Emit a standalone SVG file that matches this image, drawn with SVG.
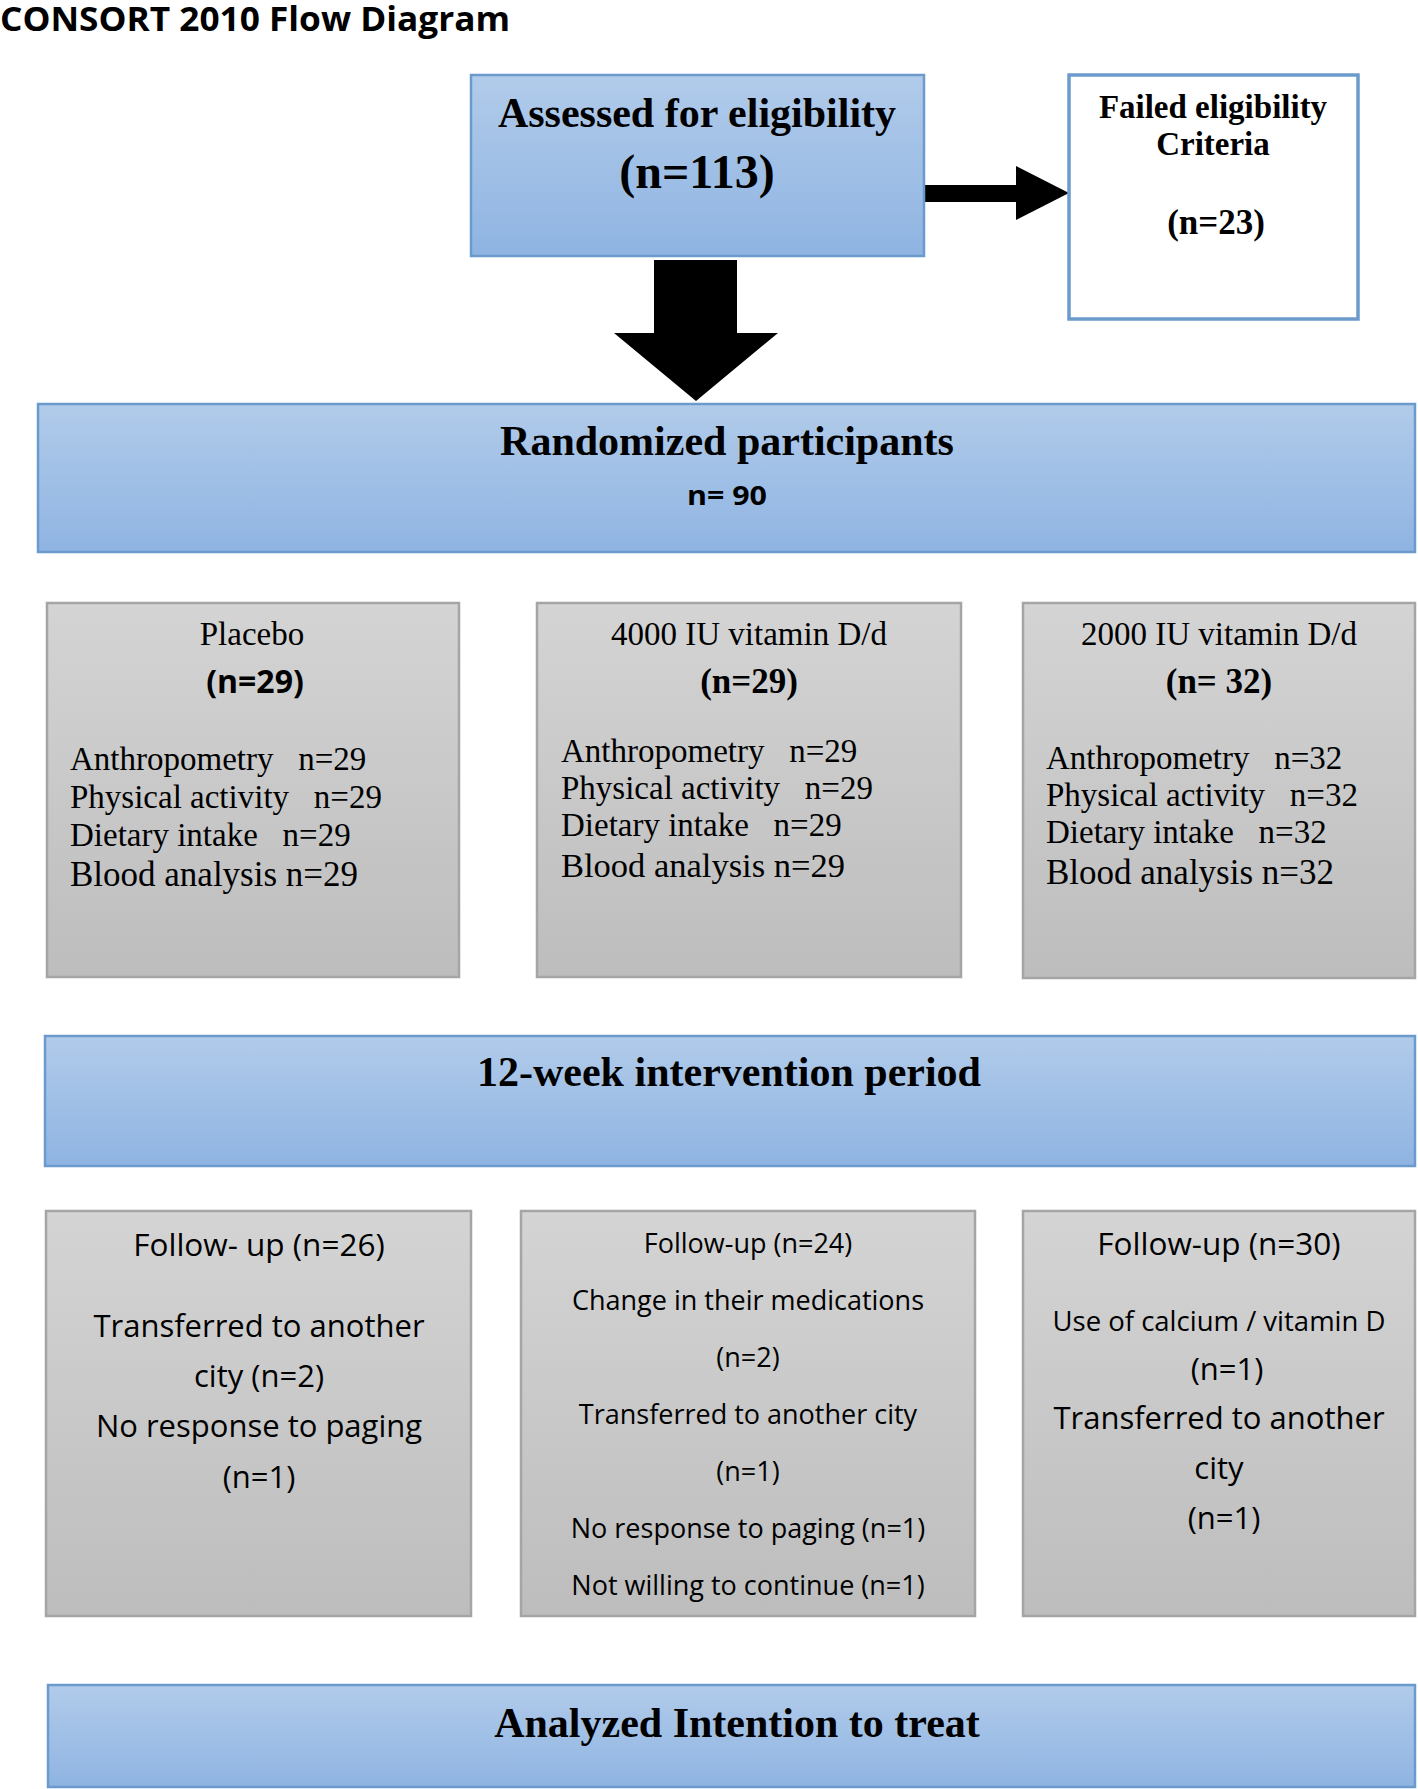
<svg xmlns="http://www.w3.org/2000/svg" width="1418" height="1789" viewBox="0 0 1418 1789">
<defs>
<linearGradient id="gBlue" x1="0" y1="0" x2="0" y2="1">
<stop offset="0" stop-color="#b1cbea"/>
<stop offset="1" stop-color="#8fb4e2"/>
</linearGradient>
<linearGradient id="gGray" x1="0" y1="0" x2="0" y2="1">
<stop offset="0" stop-color="#d4d4d4"/>
<stop offset="1" stop-color="#bdbdbd"/>
</linearGradient>
<style>
.blue{fill:url(#gBlue);stroke:#6b9acd;stroke-width:2.5}
.gray{fill:url(#gGray);stroke:#a5a5a5;stroke-width:2.5}
.white{fill:#ffffff;stroke:#6b9acd;stroke-width:3.5}
.tb{font-family:"Liberation Serif","Times New Roman",serif;font-weight:bold;fill:#000}
.tr{font-family:"Liberation Serif","Times New Roman",serif;fill:#000}
.sa{font-family:"Open Sans","Noto Sans",sans-serif;fill:#000}
.c{text-anchor:middle}
.arrow{fill:#000}
</style>
</defs>
<rect width="1418" height="1789" fill="#ffffff"/>
<text x="0" y="31" class="sa" font-weight="bold" font-size="34" textLength="510" lengthAdjust="spacingAndGlyphs">CONSORT 2010 Flow Diagram</text>

<g id="connectors">
<polygon class="arrow" points="924,185 1016,185 1016,166 1069,193 1016,220 1016,202 924,202"/>
<polygon class="arrow" points="654,260 737,260 737,333 778,333 696,401 614,333 654,333"/>
</g>

<g id="assessed">
<rect class="blue" x="471" y="75" width="453" height="181"/>
<text x="697" y="127" class="tb c" font-size="42">Assessed for eligibility</text>
<text x="697" y="188" class="tb c" font-size="48">(n=113)</text>
</g>

<g id="failed">
<rect class="white" x="1069" y="75" width="289" height="244"/>
<text x="1213" y="118" class="tb c" font-size="33">Failed eligibility</text>
<text x="1213" y="155" class="tb c" font-size="33">Criteria</text>
<text x="1216" y="234" class="tb c" font-size="35">(n=23)</text>
</g>

<g id="randomized">
<rect class="blue" x="38" y="404" width="1377" height="148"/>
<text x="727" y="455" class="tb c" font-size="42">Randomized participants</text>
<text x="727" y="505" class="sa c" font-weight="bold" font-size="27" textLength="80" lengthAdjust="spacingAndGlyphs">n= 90</text>
</g>

<g id="placebo">
<rect class="gray" x="47" y="603" width="412" height="374"/>
<text x="252" y="645" class="tr c" font-size="33">Placebo</text>
<text x="255" y="693" class="sa c" font-weight="bold" font-size="32">(n=29)</text>
<text x="70" y="770" class="tr" font-size="33" xml:space="preserve">Anthropometry   n=29</text>
<text x="70" y="808" class="tr" font-size="33" xml:space="preserve">Physical activity   n=29</text>
<text x="70" y="846" class="tr" font-size="33" xml:space="preserve">Dietary intake   n=29</text>
<text x="70" y="886" class="tr" font-size="35" xml:space="preserve">Blood analysis n=29</text>
</g>

<g id="vitd4000">
<rect class="gray" x="537" y="603" width="424" height="374"/>
<text x="749" y="645" class="tr c" font-size="33">4000 IU vitamin D/d</text>
<text x="749" y="693" class="tb c" font-size="35">(n=29)</text>
<text x="561" y="762" class="tr" font-size="33" xml:space="preserve">Anthropometry   n=29</text>
<text x="561" y="799" class="tr" font-size="33" xml:space="preserve">Physical activity   n=29</text>
<text x="561" y="836" class="tr" font-size="33" xml:space="preserve">Dietary intake   n=29</text>
<text x="561" y="877" class="tr" font-size="34.5" xml:space="preserve">Blood analysis n=29</text>
</g>

<g id="vitd2000">
<rect class="gray" x="1023" y="603" width="392" height="375"/>
<text x="1219" y="645" class="tr c" font-size="33">2000 IU vitamin D/d</text>
<text x="1219" y="693" class="tb c" font-size="35">(n= 32)</text>
<text x="1046" y="769" class="tr" font-size="33" xml:space="preserve">Anthropometry   n=32</text>
<text x="1046" y="806" class="tr" font-size="33" xml:space="preserve">Physical activity   n=32</text>
<text x="1046" y="843" class="tr" font-size="33" xml:space="preserve">Dietary intake   n=32</text>
<text x="1046" y="884" class="tr" font-size="35" xml:space="preserve">Blood analysis n=32</text>
</g>

<g id="intervention">
<rect class="blue" x="45" y="1036" width="1370" height="130"/>
<text x="729" y="1086" class="tb c" font-size="42">12-week intervention period</text>
</g>

<g id="followup1">
<rect class="gray" x="46" y="1211" width="425" height="405"/>
<text x="259" y="1256" class="sa c" font-size="31.5">Follow- up (n=26)</text>
<text x="259" y="1337" class="sa c" font-size="31">Transferred to another</text>
<text x="259" y="1387" class="sa c" font-size="31">city (n=2)</text>
<text x="259" y="1437" class="sa c" font-size="31">No response to paging</text>
<text x="259" y="1488" class="sa c" font-size="31">(n=1)</text>
</g>

<g id="followup2">
<rect class="gray" x="521" y="1211" width="454" height="405"/>
<text x="748" y="1253" class="sa c" font-size="27">Follow-up (n=24)</text>
<text x="748" y="1310" class="sa c" font-size="27">Change in their medications</text>
<text x="748" y="1367" class="sa c" font-size="27">(n=2)</text>
<text x="748" y="1424" class="sa c" font-size="27">Transferred to another city</text>
<text x="748" y="1481" class="sa c" font-size="27">(n=1)</text>
<text x="748" y="1538" class="sa c" font-size="27">No response to paging (n=1)</text>
<text x="748" y="1595" class="sa c" font-size="27">Not willing to continue (n=1)</text>
</g>

<g id="followup3">
<rect class="gray" x="1023" y="1211" width="392" height="405"/>
<text x="1219" y="1255" class="sa c" font-size="31.5">Follow-up (n=30)</text>
<text x="1219" y="1331" class="sa c" font-size="27.5">Use of calcium / vitamin D</text>
<text x="1227" y="1380" class="sa c" font-size="31">(n=1)</text>
<text x="1219" y="1429" class="sa c" font-size="31">Transferred to another</text>
<text x="1219" y="1479" class="sa c" font-size="31">city</text>
<text x="1224" y="1529" class="sa c" font-size="31">(n=1)</text>
</g>

<g id="analyzed">
<rect class="blue" x="48" y="1685" width="1367" height="102"/>
<text x="737" y="1737" class="tb c" font-size="42">Analyzed Intention to treat</text>
</g>
</svg>
